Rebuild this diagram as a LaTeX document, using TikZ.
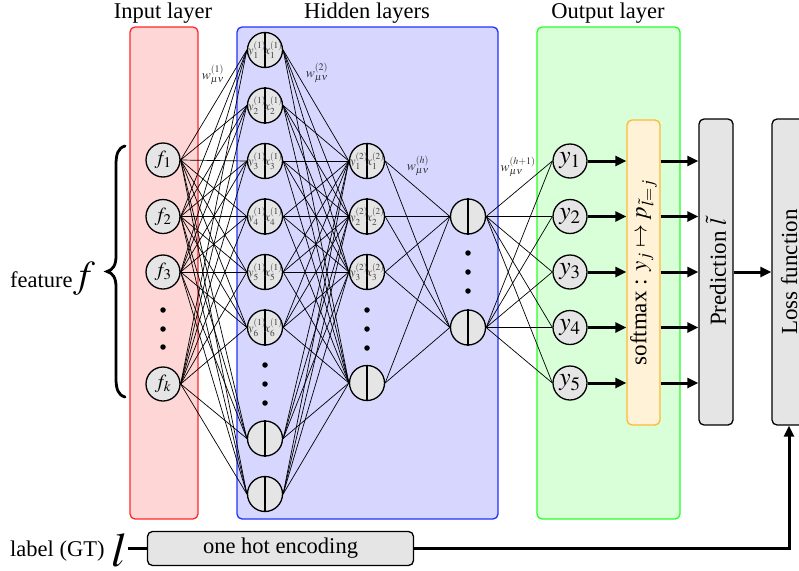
\documentclass[tikz,border=0pt]{standalone}
\usepackage{mathptmx}
\usepackage{fontspec}
\setmainfont{Liberation Serif}
\usetikzlibrary{arrows.meta,calc}
\definecolor{ngray}{RGB}{229,229,229}
\definecolor{inred}{RGB}{255,214,214}
\definecolor{hidblue}{RGB}{214,214,255}
\definecolor{outgreen}{RGB}{216,255,216}
\definecolor{softfill}{RGB}{255,242,214}
\definecolor{softdraw}{RGB}{255,185,50}
\definecolor{boxred}{RGB}{255,40,40}
\definecolor{boxblue}{RGB}{30,50,255}
\definecolor{boxgreen}{RGB}{40,255,40}
\begin{document}
\begin{tikzpicture}[x=1pt,y=-1pt,
 neuron/.style={circle,draw,fill=ngray,line width=1.3pt,minimum size=34pt,inner sep=0pt,font=\fontsize{20}{22}\selectfont},
 hneuron/.style={neuron,minimum size=35pt},
 oneuron/.style={neuron,font=\fontsize{25.5}{27}\selectfont},
 conn/.style={line width=0.7pt},
 bigarrow/.style={line width=3pt,-{Triangle[length=11pt,width=10pt]}},
 layerbox/.style={rounded corners=5pt,line width=1.3pt},
 title/.style={font=\fontsize{22.5}{24}\selectfont},
 dotn/.style={circle,fill=black,inner sep=0pt,minimum size=5.5pt},
 halflbl/.style={inner sep=0pt,font=\fontsize{12.5}{14}\selectfont,text=black!75},
 wlbl/.style={inner sep=0pt,font=\fontsize{13.5}{15}\selectfont,text=black!80},
 vbox/.style={draw,rounded corners=5pt,line width=1.3pt,rotate=90,inner sep=0pt,font=\fontsize{23}{25}\selectfont},
]
\useasboundingbox (0,0) rectangle (799,570);
\clip (0,0) rectangle (799,570);

% layer boxes
\draw[layerbox,draw=boxred,fill=inred] (130,27) rectangle (198,519);
\draw[layerbox,draw=boxblue,fill=hidblue] (237,27) rectangle (498,519);
\draw[layerbox,draw=boxgreen,fill=outgreen] (537,27) rectangle (680,519);

% titles
\node[title] (tin) at (163,13) {Input layer};
\node[title] (thid) at (367,13) {Hidden layers};
\node[title] (tout) at (608,13) {Output layer};

% input nodes
\foreach \n/\y/\s in {f1/160/1,f2/216.5/2,f3/272/3,fk/384/k}
  \node[neuron] (\n) at (163,\y) {$f_{\s}$};

% hidden layer 1
\foreach \i in {1,...,6}
  \node[hneuron] (a\i) at (265,{50+55.5*(\i-1)}) {};
\node[hneuron] (a8) at (265,438.5) {};
\node[hneuron] (a9) at (265,494) {};

% hidden layer 2
\foreach \i/\y in {1/161,2/216.5,3/272,4/383}
  \node[hneuron] (b\i) at (367,\y) {};

% hidden layer h
\node[hneuron] (c1) at (468,216.5) {};
\node[hneuron] (c2) at (468,327.5) {};

% output nodes
\foreach \i/\y in {1/161,2/216.5,3/272,4/327.5,5/383}
  \node[oneuron] (o\i) at (570,\y) {$y_{\i}$};

% connections
\foreach \p in {f1,f2,f3,fk}
  \foreach \q in {a1,a2,a3,a4,a5,a6,a8,a9}
    \draw[conn] (\p.east) -- (\q.west);
\foreach \p in {a1,a2,a3,a4,a5,a6,a8,a9}
  \foreach \q in {b1,b2,b3,b4}
    \draw[conn] (\p.east) -- (\q.west);
\foreach \p in {b1,b2,b3,b4}
  \foreach \q in {c1,c2}
    \draw[conn] (\p.east) -- (\q.west);
\foreach \p in {c1,c2}
  \foreach \q in {o1,o2,o3,o4,o5}
    \draw[conn] (\p.east) -- (\q.west);

% split lines
\foreach \q in {a1,a2,a3,a4,a5,a6,a8,a9,b1,b2,b3,b4,c1,c2}
  \draw[line width=1.3pt] (\q.north) -- (\q.south);

% half labels
\foreach \i in {1,...,6} {
  \node[halflbl] (ay\i) at ($(a\i.center)+(-8,0)$) {$y_{\i}^{(1)}$};
  \node[halflbl] (ax\i) at ($(a\i.center)+(8.5,0)$) {$x_{\i}^{(1)}$};
}
\foreach \i in {1,2,3} {
  \node[halflbl] (by\i) at ($(b\i.center)+(-8,0)$) {$y_{\i}^{(2)}$};
  \node[halflbl] (bx\i) at ($(b\i.center)+(8.5,0)$) {$x_{\i}^{(2)}$};
}

% dots
\foreach \y [count=\k] in {310,329,347} \node[dotn] (di\k) at (163,\y) {};
\foreach \y [count=\k] in {365,384,403} \node[dotn] (da\k) at (265,\y) {};
\foreach \y [count=\k] in {310,329,348} \node[dotn] (db\k) at (367,\y) {};
\foreach \y [count=\k] in {253,272,291} \node[dotn] (dc\k) at (468,\y) {};

% weight labels
\node[wlbl] (w1) at (213,75) {$w_{\mu\nu}^{(1)}$};
\node[wlbl] (w2) at (317,73) {$w_{\mu\nu}^{(2)}$};
\node[wlbl] (wh) at (418,166) {$w_{\mu\nu}^{(h)}$};
\node[wlbl] (wh1) at (518,167) {$w_{\mu\nu}^{(h+1)}$};

% softmax, prediction, loss
\node[vbox,fill=softfill,draw=softdraw,minimum width=305pt,minimum height=33pt] (soft) at (643.5,272.5) {softmax : $y_j \mapsto p_{\tilde{l}=j}$};
\node[vbox,fill=ngray,minimum width=306pt,minimum height=34pt] (pred) at (716,272) {Prediction $\tilde{l}$};
\node[vbox,fill=ngray,minimum width=306pt,minimum height=34pt] (loss) at (789,272) {Loss function};

\foreach \i in {1,...,5} {
  \draw[bigarrow] (o\i.east) -- (o\i.east -| soft.north);
  \draw[bigarrow] (o\i.east -| soft.south) -- (o\i.east -| pred.north);
}
\draw[bigarrow] (pred.south) -- (pred.south -| loss.north);

% feature brace
\node[title,anchor=base west,inner sep=0pt] (feat) at (10,287) {feature};
\node[anchor=base west,inner sep=0pt,font=\fontsize{38}{40}\selectfont] (bigf) at (73,287) {$f$};
\draw[line width=2.8pt,line cap=round]
  (125,146) .. controls (118,148) and (116,154) .. (116,165) -- (116,256)
  .. controls (116,265) and (113,270) .. (107,271.5)
  .. controls (113,273) and (116,278) .. (116,287) -- (116,378)
  .. controls (116,389) and (118,395) .. (125,397);

% bottom label
\node[title,anchor=base west,inner sep=0pt] (lbl) at (10,556) {label (GT)};
\node[anchor=base,inner sep=1pt,font=\fontsize{48}{50}\selectfont] (bigl) at (119,566) {$l$};
\node[draw,fill=ngray,rounded corners=5pt,line width=1.3pt,minimum width=266pt,minimum height=34pt,title] (onehot) at (280.5,548.5) {one hot encoding};
\draw[line width=3pt] (bigl.east |- onehot.west) -- (onehot.west);
\draw[bigarrow] (onehot.east) -| (loss.west);
\end{tikzpicture}
\end{document}
